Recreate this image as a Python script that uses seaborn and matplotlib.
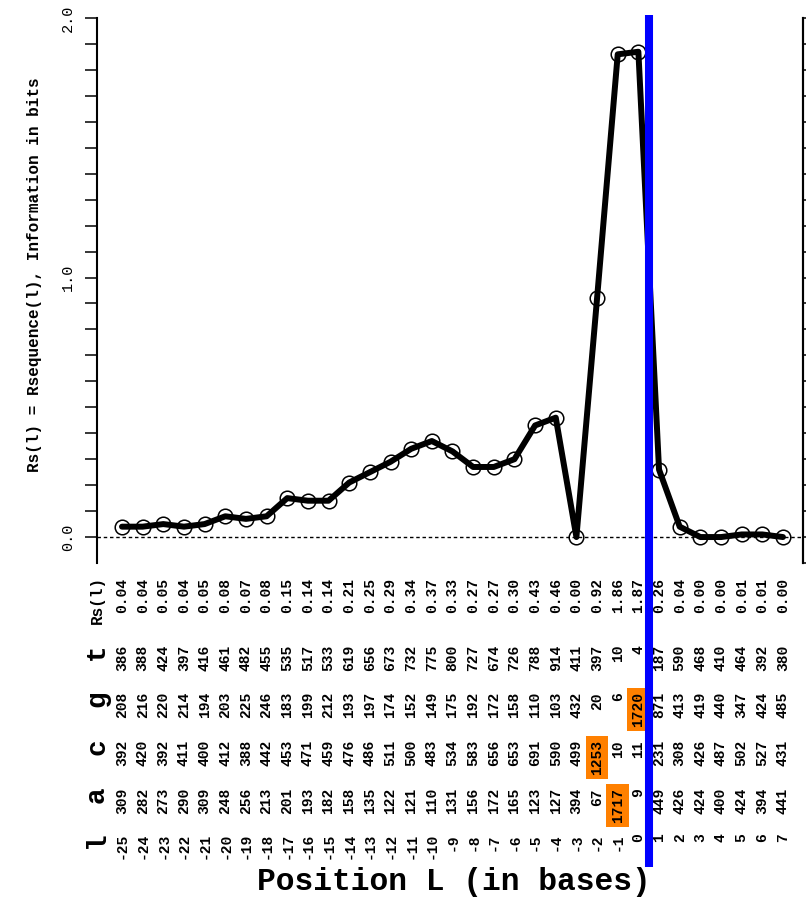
import matplotlib
matplotlib.use("Agg")
import matplotlib.pyplot as plt
import matplotlib.transforms as mtransforms
from matplotlib.lines import Line2D
import numpy as np
import pandas as pd
import seaborn as sns

# Position l relative to the site, base counts and per-position information Rs(l)
positions = list(range(-25, 8))
count_a = [309, 282, 273, 290, 309, 248, 256, 213, 201, 193, 182, 158, 135, 122, 121, 110,
           131, 156, 172, 165, 123, 127, 394, 67, 1717, 9, 449, 426, 424, 400, 424, 394, 441]
count_c = [392, 420, 392, 411, 400, 412, 388, 442, 453, 471, 459, 476, 486, 511, 500, 483,
           534, 583, 656, 653, 691, 590, 499, 1253, 10, 11, 231, 308, 426, 487, 502, 527, 431]
count_g = [208, 216, 220, 214, 194, 203, 225, 246, 183, 199, 212, 193, 197, 174, 152, 149,
           175, 192, 172, 158, 110, 103, 432, 20, 6, 1720, 871, 413, 419, 440, 347, 424, 485]
count_t = [386, 388, 424, 397, 416, 461, 482, 455, 535, 517, 533, 619, 656, 673, 732, 775,
           800, 727, 674, 726, 788, 914, 411, 397, 10, 4, 187, 590, 468, 410, 464, 392, 380]
rs_bits = [0.04, 0.04, 0.05, 0.04, 0.05, 0.08, 0.07, 0.08, 0.15, 0.14, 0.14, 0.21, 0.25,
           0.29, 0.34, 0.37, 0.33, 0.27, 0.27, 0.30, 0.43, 0.46, 0.00, 0.92, 1.86, 1.87,
           0.26, 0.04, 0.00, 0.00, 0.01, 0.01, 0.00]
y_tick_values = [0.0, 1.0, 2.0]
y_tick_labels = ["0.0", "1.0", "2.0"]
site_mark = 0.5
highlight_fraction = 0.7

sns.set_style("ticks")
plt.rcParams["font.family"] = ["Liberation Mono", "DejaVu Sans Mono"]
plt.rcParams["text.color"] = "black"

W, H = 806, 897
fig = plt.figure(figsize=(W / 100, H / 100), dpi=100)


def fx(px):
    return px / W


def fy(py):
    return 1 - py / H


ax = fig.add_axes([fx(97), fy(563), fx(803) - fx(97), fy(18) - fy(563)])
df = pd.DataFrame({"l": positions, "Rs": rs_bits})
sns.lineplot(data=df, x="l", y="Rs", ax=ax, color="black", linewidth=4.3,
             marker="o", markersize=10.5, markerfacecolor="none",
             markeredgecolor="black", markeredgewidth=1.1, zorder=3)
ax.axhline(0, color="black", lw=1.0, ls=(0, (2.5, 2)), zorder=1)

ax.set_xlim(-26.21, 7.97)
ax.set_ylim(-0.1, 2.0)
ax.set_xticks([])
ax.set_xlabel("")
ax.set_ylabel("")
ax.set_yticks(y_tick_values)
ax.set_yticklabels(y_tick_labels, rotation=90, va="center", fontsize=11)
ax.set_yticks(np.round(np.arange(0, 2.01, 0.1), 2), minor=True)
ax.tick_params(axis="y", which="both", direction="out", length=8.6, width=1.1,
               color="black", labelcolor="black", left=True, right=False, pad=7)
for side in ["top", "bottom"]:
    ax.spines[side].set_visible(False)
for side in ["left", "right"]:
    ax.spines[side].set_linewidth(1.5)
    ax.spines[side].set_color("black")

ax2 = ax.twinx()
ax2.set_ylim(-0.1, 2.0)
ax2.set_yticks(np.round(np.arange(-0.1, 2.01, 0.1), 2))
ax2.set_yticklabels([])
ax2.tick_params(axis="y", direction="out", length=8.6, width=1.1, color="black")
for side in ["top", "bottom", "left"]:
    ax2.spines[side].set_visible(False)
ax2.spines["right"].set_linewidth(1.5)
ax2.spines["right"].set_color("black")

fig.text(fx(35), fy(275), "Rs(l) = Rsequence(l), Information in bits", rotation=90,
         ha="center", va="center", fontsize=11.5, fontweight="bold")

# Count table under the curve: one rotated column of text per position
trans = mtransforms.blended_transform_factory(ax.transData, fig.transFigure)
totals = [a + c + g + t for a, c, g, t in zip(count_a, count_c, count_g, count_t)]
rows = [
    ("Rs(l)", [f"{v:.2f}" for v in rs_bits], None, 578, 11.5),
    ("t", [str(v) for v in count_t], count_t, 645, 20),
    ("g", [str(v) for v in count_g], count_g, 692, 20),
    ("c", [str(v) for v in count_c], count_c, 740, 20),
    ("a", [str(v) for v in count_a], count_a, 788, 20),
    ("l", [str(v) for v in positions], None, 833, 20),
]
for header, labels, counts, top, hsize in rows:
    fig.text(fx(97), fy(top - 2), header, rotation=90, rotation_mode="anchor",
             ha="right", va="center", fontsize=hsize, fontweight="bold")
    for i, (p, s) in enumerate(zip(positions, labels)):
        box = None
        if counts is not None and counts[i] / totals[i] >= highlight_fraction:
            box = dict(boxstyle="square,pad=0.3", fc="#FF8000", ec="none")
        ax.text(p, fy(top), s, transform=trans, rotation=90, rotation_mode="anchor",
                ha="right", va="center", fontsize=10.5, fontweight="bold",
                clip_on=False, bbox=box)

fig.text(fx(454), fy(882), "Position L (in bases)", ha="center", va="center",
         fontsize=22.5, fontweight="bold")

fig.add_artist(Line2D([site_mark, site_mark], [fy(15), fy(867)], transform=trans,
                      color="#0000FF", lw=5.8, solid_capstyle="butt", zorder=10))

fig.savefig("out.png", dpi=100)
